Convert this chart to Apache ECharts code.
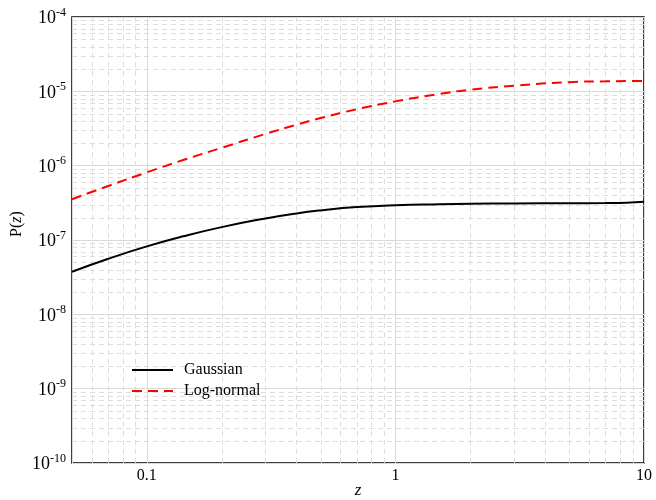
<!DOCTYPE html>
<html>
<head>
<meta charset="utf-8">
<script src="https://cdn.jsdelivr.net/npm/echarts@6/dist/echarts.min.js"></script>
<style>
html,body{margin:0;padding:0;background:#fff;}
#chart{width:656px;height:500px;}
</style>
</head>
<body>
<div id="chart"></div>
<script>
// ---- data ----
const zValues = [0.05, 0.07, 0.1, 0.14, 0.2, 0.3, 0.4, 0.5, 0.7, 1, 1.5, 2, 3, 5, 7, 8.5, 10];
const gaussian = [3.74e-8, 5.6e-8, 8.2e-8, 1.12e-7, 1.49e-7, 1.95e-7, 2.28e-7, 2.5e-7, 2.77e-7, 2.94e-7, 3.03e-7, 3.07e-7, 3.1e-7, 3.12e-7, 3.14e-7, 3.18e-7, 3.28e-7];
const logNormal = [3.54e-7, 5.33e-7, 8.13e-7, 1.19e-6, 1.74e-6, 2.67e-6, 3.56e-6, 4.37e-6, 5.75e-6, 7.33e-6, 9.23e-6, 1.05e-5, 1.19e-5, 1.33e-5, 1.365e-5, 1.375e-5, 1.38e-5];
const seriesNames = ['Gaussian', 'Log-normal'];
const xRange = [0.05, 10];
const yRange = [1e-10, 1e-4];
const xMinorTicks = [0.06, 0.07, 0.08, 0.09, 0.2, 0.3, 0.4, 0.5, 0.6, 0.7, 0.8, 0.9, 2, 3, 4, 5, 6, 7, 8, 9];
const yDecades = [1e-10, 1e-9, 1e-8, 1e-7, 1e-6, 1e-5];
const minorMultipliers = [2, 3, 4, 5, 6, 7, 8, 9];

const yMinorTicks = [];
yDecades.forEach(d => minorMultipliers.forEach(m => yMinorTicks.push(m * d)));

const serif = 'Liberation Serif';

const chart = echarts.init(document.getElementById('chart'), null, { renderer: 'canvas' });

const pairs = (ys) => zValues.map((x, i) => [x, ys[i]]);
const gridLineData = xMinorTicks.map(v => [v, yRange[0], 0]).concat(yMinorTicks.map(v => [xRange[0], v, 1]));

const option = {
  animation: false,
  backgroundColor: '#fff',
  grid: {
    left: 72, right: 12, top: 17, bottom: 37,
    outerBoundsMode: 'none',
    containLabel: false,
    show: true, borderColor: '#000', borderWidth: 1.5, backgroundColor: 'transparent'
  },
  legend: {
    data: seriesNames,
    orient: 'vertical',
    left: 131,
    top: 362,
    padding: 0,
    itemWidth: 41,
    itemHeight: 16,
    itemGap: 5,
    itemStyle: { opacity: 0, borderWidth: 0 },
    textStyle: { fontFamily: serif, fontSize: 16, color: '#000', padding: [0, 0, 0, 6] }
  },
  xAxis: {
    type: 'log',
    logBase: 10,
    min: xRange[0],
    max: xRange[1],
    name: 'z',
    nameLocation: 'middle',
    nameGap: 19,
    nameMoveOverlap: false,
    nameTextStyle: { fontFamily: serif, fontSize: 17, fontStyle: 'italic', color: '#000', verticalAlign: 'top' },
    axisLine: { show: false },
    axisTick: { show: false },
    axisLabel: {
      margin: 5,
      fontFamily: serif, fontSize: 16, color: '#000',
      formatter: v => {
        const e = Math.log10(v);
        if (Math.abs(e - Math.round(e)) > 1e-6) return '';
        return String(v);
      }
    },
    splitLine: { show: true, lineStyle: { color: '#d9d9d9', width: 1 } }
  },
  yAxis: {
    type: 'log',
    logBase: 10,
    min: yRange[0],
    max: yRange[1],
    axisLine: { show: false },
    axisTick: { show: false },
    axisLabel: {
      margin: 6,
      formatter: v => {
        const e = Math.round(Math.log10(v));
        return '{b|10}{s|' + e + '}';
      },
      rich: {
        b: { fontFamily: serif, fontSize: 18, color: '#000', lineHeight: 21, verticalAlign: 'bottom' },
        s: { fontFamily: serif, fontSize: 12, color: '#000', lineHeight: 21, verticalAlign: 'top' }
      }
    },
    splitLine: { show: true, lineStyle: { color: '#d9d9d9', width: 1 } }
  },
  graphic: [{
    type: 'text',
    x: 17, y: 224,
    rotation: Math.PI / 2,
    style: {
      text: '{a|P(}{i|z}{a|)}',
      align: 'center', verticalAlign: 'middle',
      rich: {
        a: { fontFamily: serif, fontSize: 16, fill: '#000' },
        i: { fontFamily: serif, fontSize: 16, fontStyle: 'italic', fill: '#000' }
      }
    }
  }],
  series: [
    {
      name: 'gridMinor',
      type: 'custom',
      silent: true,
      z: 1,
      data: gridLineData,
      encode: { x: 0, y: 1 },
      renderItem: (params, api) => {
        const kind = api.value(2);
        let p1, p2;
        if (kind === 0) {
          p1 = api.coord([api.value(0), yRange[0]]);
          p2 = api.coord([api.value(0), yRange[1]]);
          const x = Math.round(p1[0]) + 0.5;
          p1[0] = x; p2[0] = x;
        } else {
          p1 = api.coord([xRange[0], api.value(1)]);
          p2 = api.coord([xRange[1], api.value(1)]);
          const y = Math.round(p1[1]) + 0.5;
          p1[1] = y; p2[1] = y;
        }
        return {
          type: 'line',
          silent: true,
          shape: { x1: p1[0], y1: p1[1], x2: p2[0], y2: p2[1] },
          style: { stroke: '#dddddd', lineWidth: 1, lineDash: [5, 4] }
        };
      }
    },
    {
      name: seriesNames[0],
      type: 'line',
      data: pairs(gaussian),
      smooth: 0.5,
      symbol: 'none',
      z: 5,
      lineStyle: { color: '#000', width: 2, type: 'solid' },
      itemStyle: { color: '#000' }
    },
    {
      name: seriesNames[1],
      type: 'line',
      data: pairs(logNormal),
      smooth: 0.5,
      symbol: 'none',
      z: 5,
      lineStyle: { color: '#ff0000', width: 2, type: [10, 6] },
      itemStyle: { color: '#ff0000' }
    }
  ]
};
chart.setOption(option);
</script>
</body>
</html>
